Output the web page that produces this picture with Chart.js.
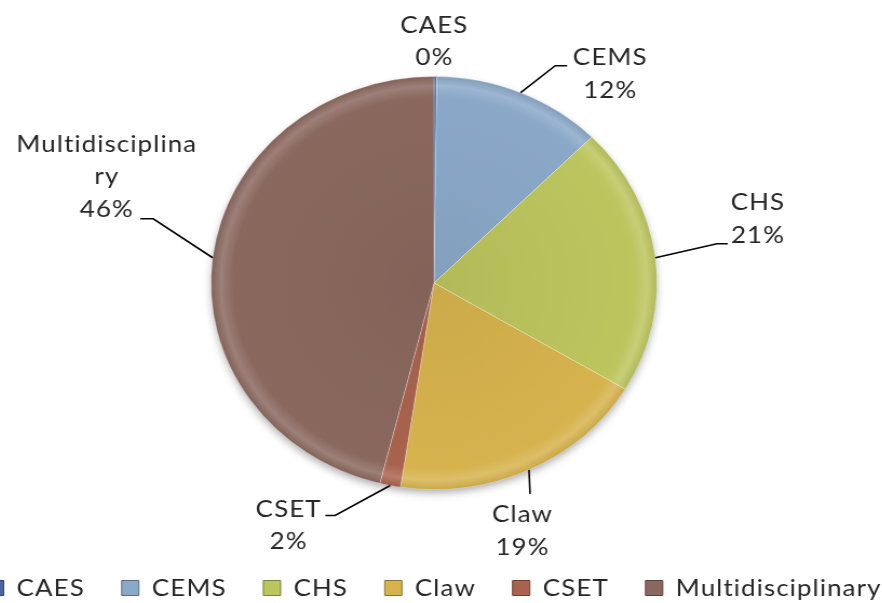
<!DOCTYPE html>
<html>
<head>
<meta charset="utf-8">
<script src="https://cdn.jsdelivr.net/npm/chart.js@4.4.1/dist/chart.umd.min.js"></script>
<style>
  html, body { margin: 0; padding: 0; background: #fff; overflow: hidden; width: 882px; height: 603px; }
  /* the original picture is stretched a little horizontally, so the pie is wider than tall */
  #wrap { position: absolute; left: -106px; top: 0; width: 1000px; height: 610px; transform: scaleX(1.08); transform-origin: 0 0; }
</style>
</head>
<body>
<div id="wrap"><canvas id="pieChart" width="1000" height="610"></canvas></div>
<script>
// Data
const categories = ['CAES', 'CEMS', 'CHS', 'Claw', 'CSET', 'Multidisciplinary'];
const shares = [0.2, 12.3, 21.1, 18.8, 1.5, 46.1];
const sliceColors = ['#4a66a0', '#8aa8c8', '#bcc55e', '#d7b34e', '#a9634d', '#8a685e'];

const PIE_RADIUS = 206.5;
const LABEL_FONT = '24px Lato';
const LINE_H = 32.5;
const LABEL_WRAP = 172;

// leader elbow (from slice edge), horizontal tail, and text centre (from line end)
const LABEL_LAYOUT = [
    { elbow: null, tail: 0, text: [-1, -35] },
    { elbow: [32, -27], tail: 11, text: [40, 8] },
    { elbow: [57, -14], tail: 10, text: [28, -25] },
    { elbow: [1, 24], tail: 0, text: [-7, 37] },
    { elbow: [-51, 30], tail: -9, text: [-34, 10] },
    { elbow: [-55, -39], tail: -12, text: [-31, -42] }
];

function shade(hex, amt) {
    const n = parseInt(hex.slice(1), 16);
    let r = n >> 16, g = (n >> 8) & 255, b = n & 255;
    const t = amt < 0 ? 0 : 255, p = Math.abs(amt);
    r = Math.round(r + (t - r) * p);
    g = Math.round(g + (t - g) * p);
    b = Math.round(b + (t - b) * p);
    return 'rgb(' + r + ',' + g + ',' + b + ')';
}

function sliceFill(context) {
    const chart = context.chart;
    const area = chart.chartArea;
    const base = sliceColors[context.dataIndex];
    if (!area) return base;
    const cx = (area.left + area.right) / 2, cy = (area.top + area.bottom) / 2;
    const g = chart.ctx.createRadialGradient(cx, cy, 0, cx, cy, PIE_RADIUS);
    g.addColorStop(0, shade(base, -0.05));
    g.addColorStop(0.9, base);
    g.addColorStop(0.955, shade(base, 0.16));
    g.addColorStop(1, shade(base, -0.06));
    return g;
}

function wrapText(ctx, text, maxW) {
    const lines = [];
    let cur = '';
    for (const ch of text) {
        if (cur && ctx.measureText(cur + ch).width > maxW) {
            lines.push(cur);
            cur = ch;
        } else {
            cur += ch;
        }
    }
    lines.push(cur);
    return lines;
}

// slightly wider letters, closer to the original font
const spacing = {
    id: 'spacing',
    beforeLayout(chart) { chart.ctx.letterSpacing = '1px'; },
    beforeDraw(chart) { chart.ctx.letterSpacing = '1px'; }
};

// shadow under the pie and the outside labels with leader lines
const outsideLabels = {
    id: 'outsideLabels',
    beforeDatasetsDraw(chart) {
        const arc = chart.getDatasetMeta(0).data[0];
        if (!arc) return;
        const ctx = chart.ctx;
        ctx.save();
        ctx.shadowColor = 'rgba(0,0,0,0.35)';
        ctx.shadowBlur = 9;
        ctx.shadowOffsetY = 4;
        ctx.fillStyle = '#fff';
        ctx.beginPath();
        ctx.arc(arc.x, arc.y, arc.outerRadius - 1, 0, Math.PI * 2);
        ctx.fill();
        ctx.restore();
    },
    afterDatasetsDraw(chart) {
        const ctx = chart.ctx;
        const meta = chart.getDatasetMeta(0);
        const total = shares.reduce((a, b) => a + b, 0);
        ctx.save();
        ctx.font = LABEL_FONT;
        ctx.fillStyle = '#262626';
        ctx.strokeStyle = '#000';
        ctx.lineWidth = 1.6;
        ctx.textAlign = 'center';
        ctx.textBaseline = 'middle';
        meta.data.forEach((arc, i) => {
            const p = arc.getProps(['x', 'y', 'startAngle', 'endAngle', 'outerRadius'], true);
            const mid = (p.startAngle + p.endAngle) / 2;
            const ex = p.x + p.outerRadius * Math.cos(mid);
            const ey = p.y + p.outerRadius * Math.sin(mid);
            const lay = LABEL_LAYOUT[i];
            let ax = ex, ay = ey;
            if (lay.elbow) {
                ctx.beginPath();
                ctx.moveTo(ex, ey);
                ax += lay.elbow[0];
                ay += lay.elbow[1];
                ctx.lineTo(ax, ay);
                if (lay.tail) {
                    ax += lay.tail;
                    ctx.lineTo(ax, ay);
                }
                ctx.stroke();
            }
            const lines = wrapText(ctx, categories[i], LABEL_WRAP);
            lines.push(Math.round(shares[i] / total * 100) + '%');
            const tx = ax + lay.text[0];
            const top = ay + lay.text[1] - (lines.length - 1) * LINE_H / 2;
            lines.forEach((ln, k) => ctx.fillText(ln, tx, top + k * LINE_H));
        });
        ctx.restore();
    }
};

const ctx = document.getElementById('pieChart').getContext('2d');

new Chart(ctx, {
    type: 'pie',
    data: {
        labels: categories,
        datasets: [{
            data: shares,
            backgroundColor: sliceFill,
            borderColor: 'rgba(255,255,255,0.35)',
            borderWidth: 0.75,
            radius: PIE_RADIUS
        }]
    },
    options: {
        responsive: false,
        animation: false,
        layout: { padding: { top: 24, bottom: 0, left: 0, right: 0 } },
        plugins: {
            tooltip: { enabled: false },
            legend: {
                position: 'bottom',
                labels: {
                    font: { family: 'Lato', size: 24 },
                    color: '#262626',
                    boxWidth: 16,
                    boxHeight: 15,
                    padding: 34,
                    generateLabels(chart) {
                        const items = Chart.overrides.doughnut.plugins.legend.labels.generateLabels(chart);
                        return items.map((it, i) => Object.assign(it, {
                            fillStyle: sliceColors[i],
                            strokeStyle: shade(sliceColors[i], -0.35),
                            lineWidth: 1
                        }));
                    }
                }
            }
        }
    },
    plugins: [spacing, outsideLabels]
});
</script>
</body>
</html>
